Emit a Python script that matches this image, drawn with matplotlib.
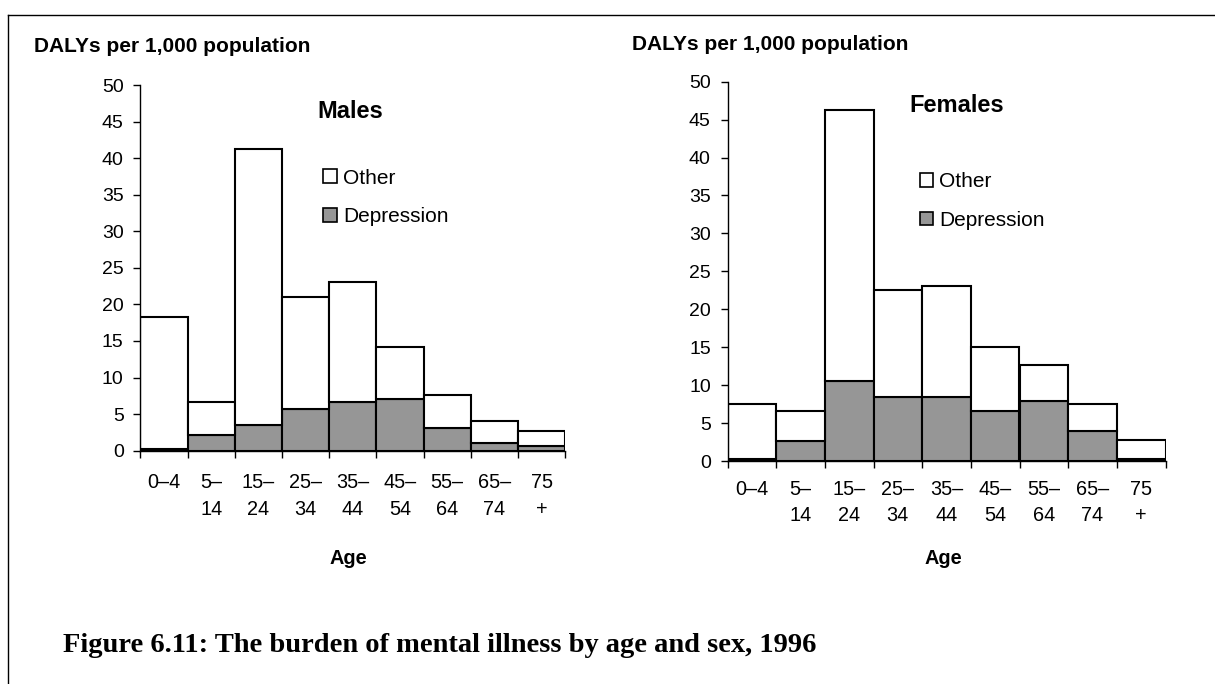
import matplotlib.pyplot as plt
from matplotlib.lines import Line2D
from matplotlib.patches import Patch
import numpy as np

plt.rcParams['font.family'] = ['Liberation Sans', 'DejaVu Sans']

# age groups
ages = ['0–4', '5–\n14', '15–\n24', '25–\n34', '35–\n44', '45–\n54', '55–\n64', '65–\n74', '75\n+']

# DALYs per 1,000 (totals and depression part)
male_total = [18.3, 6.6, 41.3, 21.0, 23.1, 14.2, 7.6, 4.1, 2.7]
male_depr = [0.3, 2.2, 3.5, 5.7, 6.6, 7.1, 3.1, 1.05, 0.6]
female_total = [7.55, 6.55, 46.3, 22.6, 23.1, 15.0, 12.6, 7.55, 2.8]
female_depr = [0.3, 2.6, 10.6, 8.4, 8.4, 6.6, 7.9, 3.9, 0.3]

GREY = '#969696'
W, H = 1215, 684

fig = plt.figure(figsize=(W / 100, H / 100), dpi=100)


def px(x, y):
    # pixel position (from top-left) -> figure fraction
    return x / W, 1 - y / H


def draw_panel(rect, total, depr, title, title_xy, leg_xy, lab_xy, age_xy, xpad, lsp):
    ax = fig.add_axes(rect)
    x = np.arange(len(ages))
    other = np.array(total) - np.array(depr)
    ax.bar(x, depr, width=1.0, align='edge', color=GREY, edgecolor='black', linewidth=1.5)
    ax.bar(x, other, bottom=depr, width=1.0, align='edge', color='white', edgecolor='black', linewidth=1.5)
    ax.set_xlim(0, len(ages))
    ax.set_ylim(0, 50)
    ax.set_yticks(range(0, 51, 5))
    ax.set_xticks(range(len(ages) + 1))
    ax.set_xticklabels([])
    ax.set_xticks(x + 0.5, minor=True)
    ax.set_xticklabels(ages, minor=True, fontsize=14.3, va='top', linespacing=lsp)
    ax.tick_params(axis='x', which='minor', length=0, pad=xpad)
    ax.tick_params(axis='x', which='major', length=5, width=1, direction='out')
    ax.tick_params(axis='y', length=5, width=1, labelsize=14, pad=7)
    for s in ['top', 'right']:
        ax.spines[s].set_visible(False)
    for s in ['left', 'bottom']:
        ax.spines[s].set_linewidth(1)
    ax.patch.set_alpha(0)

    fig.text(*px(*lab_xy), 'DALYs per 1,000 population', fontsize=15,
             fontweight='bold', va='center', ha='left')
    fig.text(*px(*title_xy), title, fontsize=17, fontweight='bold',
             va='center', ha='left')
    fig.text(*px(*age_xy), 'Age', fontsize=14.3, fontweight='bold',
             va='center', ha='center')
    handles = [Patch(facecolor='white', edgecolor='black', linewidth=1.2, label='Other'),
               Patch(facecolor=GREY, edgecolor='black', linewidth=1.2, label='Depression')]
    fig.legend(handles=handles, loc='upper left', bbox_to_anchor=px(*leg_xy), frameon=False,
               fontsize=15, handlelength=0.64, handleheight=0.64, handletextpad=0.3,
               labelspacing=0.94, borderpad=0, borderaxespad=0)
    return ax


draw_panel([140.4 / W, 1 - 450.7 / H, 424.9 / W, 365.7 / H], male_total, male_depr, 'Males',
           (317.6, 111), (323.4, 168.5), (33.7, 47), (348, 559), 15.8, 1.55)
draw_panel([727.5 / W, 1 - 461 / H, 438 / W, 379.3 / H], female_total, female_depr, 'Females',
           (909.8, 105), (919.6, 172.2), (631.7, 45), (943, 558), 14.0, 1.42)

fig.text(63 / W, 1 - 652 / H, 'Figure 6.11: The burden of mental illness by age and sex, 1996',
         fontsize=20.5, fontweight='bold', family='Liberation Serif', va='baseline', ha='left')

# frame lines at top and left
fig.add_artist(Line2D([8 / W, 8 / W], [0, 1 - 15 / H], transform=fig.transFigure,
                      color='black', linewidth=1))
fig.add_artist(Line2D([8 / W, 1], [1 - 15 / H, 1 - 15 / H], transform=fig.transFigure,
                      color='black', linewidth=1))

fig.savefig('out.png', dpi=100)
